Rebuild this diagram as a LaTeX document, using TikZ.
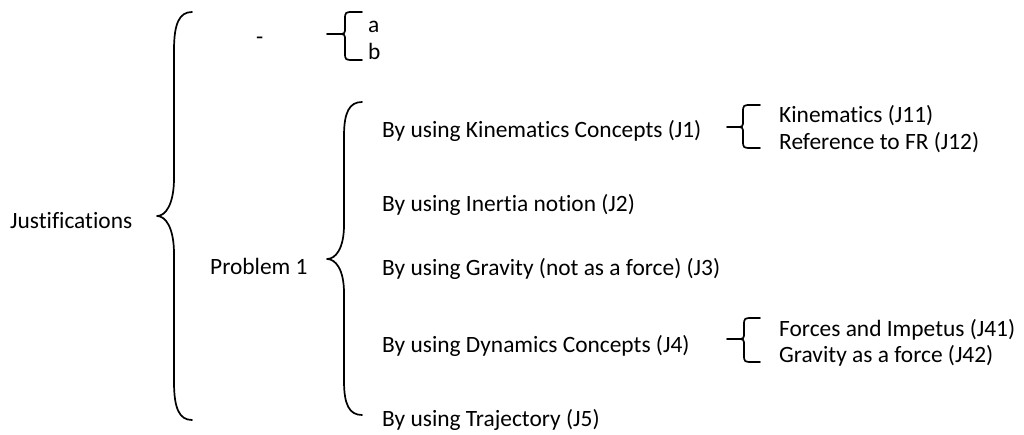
\documentclass[tikz,border=0pt]{standalone}
\usepackage{fontspec}
\setmainfont{Carlito}[Ligatures={NoCommon}]
\newcommand{\brc}[7]{%
  \draw[bracestyle] (#1,#4) .. controls ({#2+0.3*(#1-#2)},#4) and (#2,{#4+0.3*#7}) .. (#2,{#4+#7}) -- (#2,{#5-#7})
    .. controls (#2,{#5-0.3*#7}) and ({#3+0.5*(#2-#3)},#5) .. (#3,#5)
    .. controls ({#3+0.5*(#2-#3)},#5) and (#2,{#5+0.3*#7}) .. (#2,{#5+#7})
    -- (#2,{#6-#7}) .. controls (#2,{#6-0.3*#7}) and ({#2+0.3*(#1-#2)},#6) .. (#1,#6);}
\newcommand{\sbrc}[6]{%
  \draw[bracestyle] (#1,#4) -- ({#2+9},#4) .. controls (#2,#4) .. (#2,{#4+8}) -- (#2,{#5-7})
    .. controls (#2,#5) .. ({#2-7},#5) -- (#3,#5);
  \draw[bracestyle] ({#2-7},#5) .. controls (#2,#5) .. (#2,{#5+7})
    -- (#2,{#6-8}) .. controls (#2,#6) .. ({#2+9},#6) -- (#1,#6);}
\begin{document}
\begin{tikzpicture}[x=1pt,y=-1pt,
  lbl/.style={anchor=base west,inner sep=0pt,font=\fontsize{23.4}{28}\selectfont},
  bracestyle/.style={draw=black,line width=1.7pt,line cap=round,line join=round}]
\useasboundingbox (0,0) rectangle (1024,435);
% texts
\node[lbl] (just) at (10,229) {Justifications};
\node[lbl] (dash) at (256,45) {-};
\node[lbl] (a) at (368,33) {a};
\node[lbl] (b) at (368,60) {b};
\node[lbl] (prob) at (210,275) {Problem 1};
\node[lbl] (j1) at (382,138) {By using Kinematics Concepts (J1)};
\node[lbl] (j2) at (382,212) {By using Inertia notion (J2)};
\node[lbl] (j3) at (382,276) {By using Gravity (not as a force) (J3)};
\node[lbl] (j4) at (382,352) {By using Dynamics Concepts (J4)};
\node[lbl] (j5) at (382,426) {By using Trajectory (J5)};
\node[lbl] (j11) at (779,123) {Kinematics (J11)};
\node[lbl] (j12) at (779,150) {Reference to FR (J12)};
\node[lbl] (j41) at (779,336) {Forces and Impetus (J41)};
\node[lbl] (j42) at (779,362) {Gravity as a force (J42)};
% braces
\brc{192}{174}{157}{12}{216}{420}{38}
\brc{362}{344}{327}{102}{259}{415}{34}
\sbrc{362}{345}{327}{12}{34}{60}
\sbrc{760}{743}{727}{105}{127}{148}
\sbrc{760}{744}{727}{318}{339}{362}
\end{tikzpicture}
\end{document}
